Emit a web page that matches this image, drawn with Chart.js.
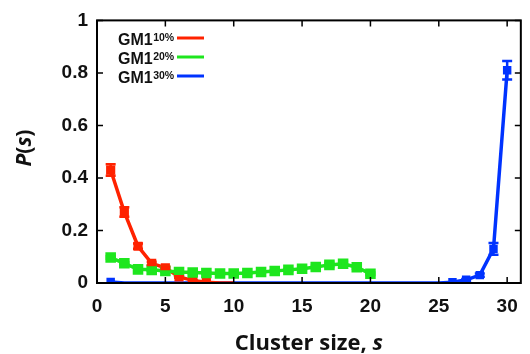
<!DOCTYPE html>
<html><head><meta charset="utf-8">
<script src="https://cdn.jsdelivr.net/npm/chart.js@4/dist/chart.umd.min.js"></script>
<style>html,body{margin:0;padding:0;background:#fff}#wrap{width:530px;height:354px}</style>
</head><body><div id="wrap"><canvas id="c" width="530" height="354"></canvas></div>
<script>
const sizes10 = [1,2,3,4,5,6,7,8,9,10];
const gm10 = [0.43,0.27,0.14,0.075,0.058,0.023,0.01,0.003,0,0];
const gm10Err = [0.022,0.018,0.01,0.006,0.005,0.003,0.002,0,0,0];
const sizes20 = [1,2,3,4,5,6,7,8,9,10,11,12,13,14,15,16,17,18,19,20];
const gm20 = [0.097,0.075,0.052,0.05,0.046,0.042,0.04,0.038,0.036,0.036,0.038,0.042,0.046,0.05,0.054,0.061,0.069,0.073,0.06,0.035];
const gm20Err = [0.005,0.004,0.004,0.003,0.003,0.003,0.003,0.003,0.003,0.003,0.003,0.003,0.003,0.003,0.004,0.005,0.008,0.009,0.006,0.005];
const sizes30 = [1,2,3,4,5,6,7,8,9,10,11,12,13,14,15,16,17,18,19,20,21,22,23,24,25,26,27,28,29,30];
const gm30 = [0.004,0,0,0,0,0,0,0,0,0,0,0,0,0,0,0,0,0,0,0,0,0,0,0,0,0.003,0.012,0.03,0.13,0.81];
const gm30Err = [0,0,0,0,0,0,0,0,0,0,0,0,0,0,0,0,0,0,0,0,0,0,0,0,0,0,0.003,0.006,0.022,0.035];
const xTicks = [0,5,10,15,20,25,30];
const yTicks = [0,0.2,0.4,0.6,0.8,1];
const legendNames = ['GM1','GM1','GM1'];
const legendSups = ['10%','20%','30%'];

const RED = '#ff2200', GREEN = '#1ee61e', BLUE = '#0033ff';

function pts(xs, ys){ return xs.map((x,i)=>({x:x,y:ys[i]})); }

const errPlugin = {
  id:'err',
  afterDatasetsDraw(chart){
    const ctx = chart.ctx, xs = chart.scales.x, ys = chart.scales.y;
    chart.data.datasets.forEach(ds=>{
      if(!ds.err) return;
      ctx.save();
      ctx.strokeStyle = ds.borderColor; ctx.lineWidth = 2.5;
      ds.data.forEach((p,i)=>{
        const e = ds.err[i]; if(!e) return;
        const px = xs.getPixelForValue(p.x);
        const y1 = ys.getPixelForValue(p.y+e), y2 = ys.getPixelForValue(p.y-e);
        ctx.beginPath();
        ctx.moveTo(px,y1); ctx.lineTo(px,y2);
        ctx.moveTo(px-5,y1); ctx.lineTo(px+5,y1);
        ctx.moveTo(px-5,y2); ctx.lineTo(px+5,y2);
        ctx.stroke();
      });
      ctx.restore();
    });
  }
};

const framePlugin = {
  id:'frame',
  afterDraw(chart){
    const ctx = chart.ctx, a = chart.chartArea, xs = chart.scales.x, ys = chart.scales.y;
    ctx.save();
    ctx.strokeStyle = '#000'; ctx.lineWidth = 2;
    ctx.strokeRect(a.left, a.top, a.right-a.left, a.bottom-a.top);
    ctx.lineWidth = 1.5;
    ctx.beginPath();
    xTicks.forEach(v=>{
      const px = xs.getPixelForValue(v);
      ctx.moveTo(px,a.bottom); ctx.lineTo(px,a.bottom-6);
      ctx.moveTo(px,a.top); ctx.lineTo(px,a.top+6);
    });
    yTicks.forEach(v=>{
      const py = ys.getPixelForValue(v);
      ctx.moveTo(a.left,py); ctx.lineTo(a.left+6,py);
      ctx.moveTo(a.right,py); ctx.lineTo(a.right-6,py);
    });
    ctx.stroke();
    // legend
    const colors = [RED,GREEN,BLUE];
    legendNames.forEach((n,i)=>{
      const base = 45 + i*19;
      ctx.fillStyle = '#111';
      ctx.font = 'bold 16px "Liberation Sans", Arial, sans-serif';
      ctx.textBaseline = 'alphabetic'; ctx.textAlign = 'left';
      ctx.fillText(n, 118, base);
      const w = ctx.measureText(n).width;
      ctx.font = 'bold 10.5px "Liberation Sans", Arial, sans-serif';
      ctx.fillText(legendSups[i], 118+w+0.5, base-4);
      ctx.strokeStyle = colors[i]; ctx.lineWidth = 3;
      ctx.beginPath(); ctx.moveTo(177, base-7); ctx.lineTo(204, base-7); ctx.stroke();
    });
    // axis titles with italic parts
    function drawParts(parts, cx, cy, baseline){
      let total = 0;
      parts.forEach(p=>{ ctx.font = p[1]; p.w = ctx.measureText(p[0]).width; total += p.w; });
      let x = cx - total/2;
      ctx.textAlign='left'; ctx.textBaseline=baseline; ctx.fillStyle='#111';
      parts.forEach(p=>{ ctx.font = p[1]; ctx.fillText(p[0], x, cy); x += p.w; });
    }
    const B = 'bold 22px "Open Sans", sans-serif', I = 'italic bold 22px "Open Sans", sans-serif';
    drawParts([['Cluster size, ',B],['s',I]], (a.left+a.right)/2, 350, 'alphabetic');
    const B2 = 'bold 21px "Open Sans", sans-serif', I2 = 'italic bold 21px "Open Sans", sans-serif';
    ctx.save();
    ctx.translate(25, 148); ctx.rotate(-Math.PI/2);
    drawParts([['P',I2],['(',B2],['s',I2],[')',B2]], 0, 0, 'middle');
    ctx.restore();
    ctx.restore();
  }
};

const tickFont = {family:'"Liberation Sans", Arial, sans-serif', size:19, weight:'bold'};

new Chart(document.getElementById('c'), {
  type:'line',
  data:{datasets:[
    {label:'GM1 20%', data:pts(sizes20,gm20), err:gm20Err, borderColor:GREEN, backgroundColor:GREEN, borderWidth:3.5, pointStyle:'rect', pointRadius:5, pointHoverRadius:5},
    {label:'GM1 10%', data:pts(sizes10,gm10), err:gm10Err, borderColor:RED, backgroundColor:RED, borderWidth:3.5, pointStyle:'rect', pointRadius:c=>c.raw && c.raw.y>0 ? 4 : 0, pointHoverRadius:4},
    {label:'GM1 30%', data:pts(sizes30,gm30), err:gm30Err, borderColor:BLUE, backgroundColor:BLUE, borderWidth:3.5, pointStyle:'rect', pointRadius:c=>c.raw && c.raw.y>0 ? 3.5 : 0, pointHoverRadius:3}
  ]},
  options:{
    responsive:false, animation:false, events:[],
    layout:{padding:{top:19,right:8,left:0,bottom:0}},
    plugins:{legend:{display:false}, tooltip:{enabled:false}},
    scales:{
      x:{type:'linear', min:0, max:31,
        afterBuildTicks:s=>{ s.ticks = xTicks.map(v=>({value:v})); },
        afterFit:s=>{ s.height = 71; },
        grid:{display:false, drawTicks:false}, border:{display:false},
        ticks:{font:tickFont, color:'#111', padding:12, maxRotation:0}},
      y:{type:'linear', min:0, max:1,
        afterBuildTicks:s=>{ s.ticks = yTicks.map(v=>({value:v})); },
        afterFit:s=>{ s.width = 97; },
        grid:{display:false, drawTicks:false}, border:{display:false},
        ticks:{font:tickFont, color:'#111', padding:9, callback:v=>String(+v.toFixed(1))}}
    }
  },
  plugins:[errPlugin, framePlugin]
});
</script></body></html>
